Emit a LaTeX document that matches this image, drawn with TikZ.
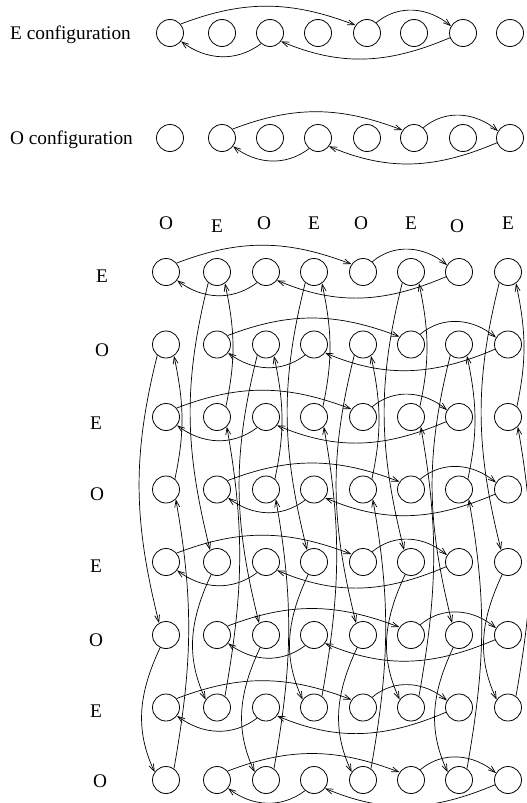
\documentclass[tikz,border=0pt]{standalone}
\usepackage{fontspec}
\setmainfont{Liberation Serif}
\usetikzlibrary{arrows.meta}
\newcommand\hcycle[5]{%
  \draw[arr] (#1-#2.40) to[out=21,in=159] (#1-#3.146);
  \draw[arr] (#1-#3.48) to[out=40,in=140] (#1-#4.150);
  \draw[arr] (#1-#4.200) to[out=203,in=-23] (#1-#5.-37);
  \draw[arr] (#1-#5.230) to[out=217,in=-37] (#1-#2.-37);
}
\newcommand\vcycle[5]{%
  \draw[arr] (g#2-#1.231) to[out=256,in=104] (g#3-#1.120);
  \draw[arr] (g#3-#1.245) to[out=245,in=115] (g#4-#1.145);
  \draw[arr] (g#4-#1.55) to[out=80,in=-80] (g#5-#1.-45);
  \draw[arr] (g#5-#1.50) to[out=78,in=-78] (g#2-#1.-55);
}
\begin{document}
\begin{tikzpicture}[x=1pt,y=1pt,
  dot/.style={circle,draw,minimum size=27pt,inner sep=0pt,line width=0.8pt},
  arr/.style={line width=0.7pt,-{Straight Barb[length=7pt,width=5pt]}},
  lab/.style={font=\fontsize{19.3}{21}\selectfont,inner sep=0pt}]
\useasboundingbox (0,0) rectangle (527,-803);
% configuration rows
\node[lab,anchor=base east] (le) at (131,-39) {E configuration};
\node[lab,anchor=base east] (lo) at (133,-144) {O configuration};
\foreach \c/\x in {1/170,2/222,3/270,4/318,5/367,6/414,7/463,8/510}{
  \node[dot] (e-\c) at (\x,-33) {};
  \node[dot] (o-\c) at (\x,-138) {};
}
\hcycle{e}{1}{5}{7}{3}
\hcycle{o}{2}{6}{8}{4}
% column labels
\foreach \t/\x/\y [count=\i] in {O/166/223,E/217/226,O/264/223,E/314/223,O/361/223,E/411/223,O/457/226,E/508/223}{
  \node[lab] (cl\i) at (\x,-\y) {\t};
}
% row labels
\foreach \t/\x/\y [count=\i] in {E/102/276,O/102/350,E/96/423,O/97/494,E/96/566,O/96/640,E/96/711,O/100/781}{
  \node[lab] (rl\i) at (\x,-\y) {\t};
}
% grid
\foreach \c/\x in {1/166,2/217,3/266,4/314,5/363,6/411,7/459,8/508}{
  \foreach \r/\y in {1/272,2/344.5,3/417,4/489.5,5/562,6/635,7/707.5,8/780}{
    \node[dot] (g\r-\c) at (\x,-\y) {};
  }
}
\foreach \r in {1,3,5,7}{\hcycle{g\r}{1}{5}{7}{3}}
\foreach \r in {2,4,6,8}{\hcycle{g\r}{2}{6}{8}{4}}
\foreach \c in {1,3,5,7}{\vcycle{\c}{2}{6}{8}{4}}
\foreach \c in {2,4,6,8}{\vcycle{\c}{1}{5}{7}{3}}
\end{tikzpicture}
\end{document}
